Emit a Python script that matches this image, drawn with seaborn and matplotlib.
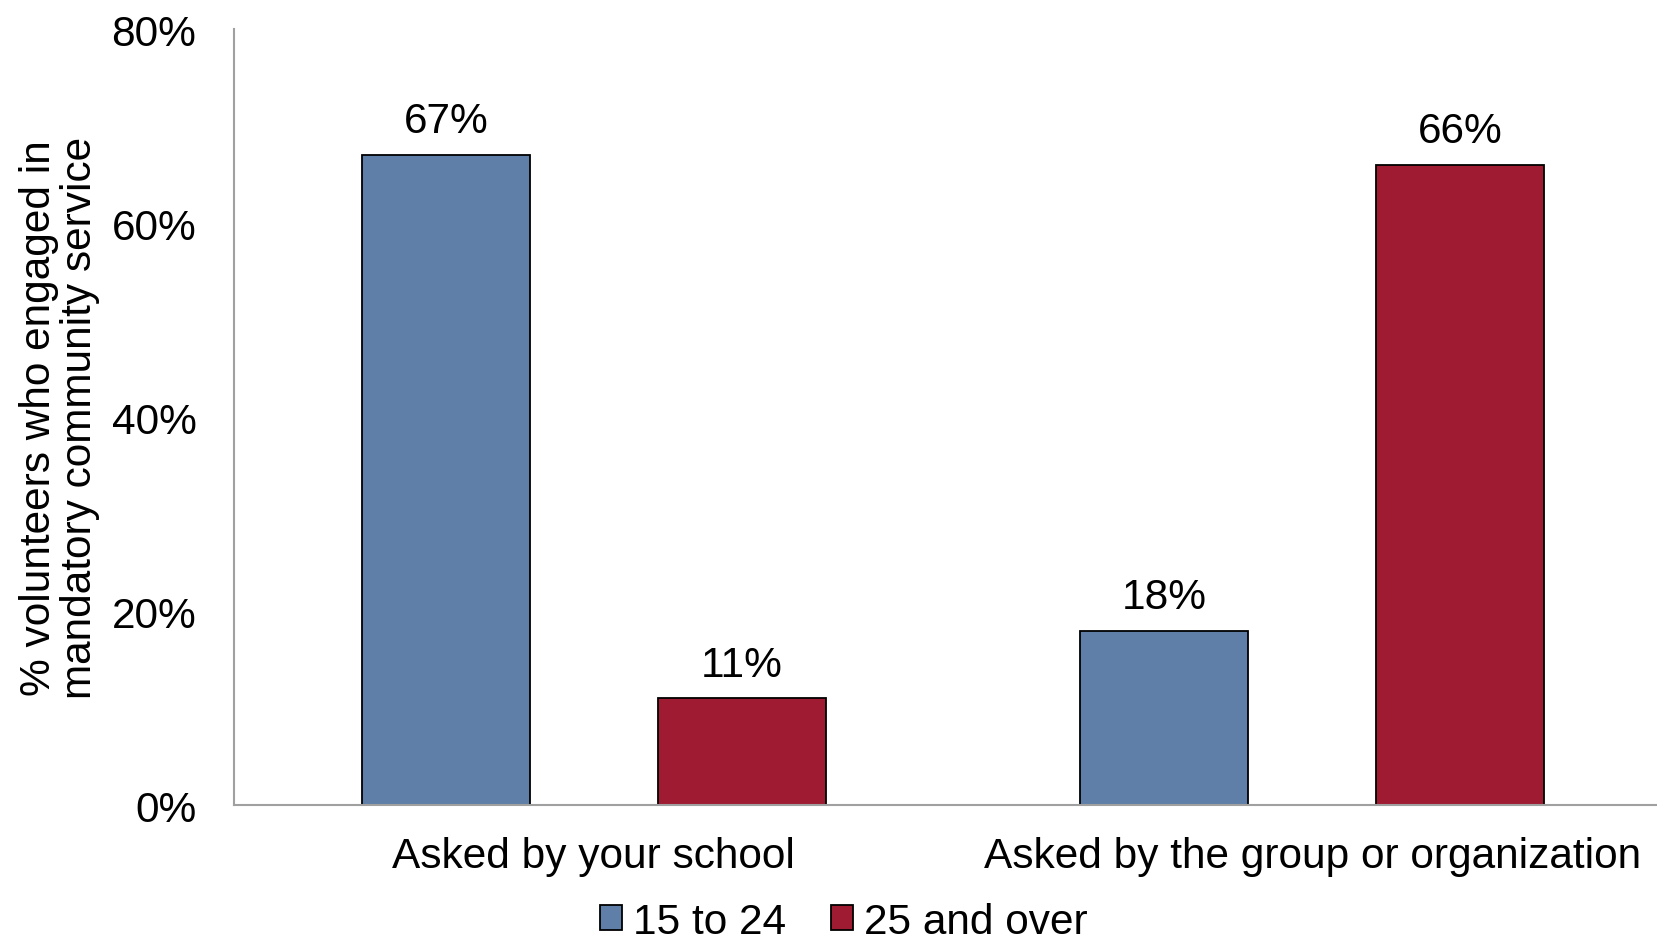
import pandas as pd
import matplotlib.pyplot as plt
import seaborn as sns
from matplotlib.ticker import PercentFormatter

categories = ["Asked by your school", "Asked by the group or organization"]
groups = ["15 to 24", "25 and over"]
young = [67, 18]
older = [11, 66]

data = pd.DataFrame({
    "category": categories * 2,
    "age": [groups[0]] * 2 + [groups[1]] * 2,
    "value": young + older,
})

sns.set_style("white")
plt.rcParams['font.family'] = ['Liberation Sans', 'DejaVu Sans']
plt.rcParams['text.color'] = 'black'
plt.rcParams['axes.labelcolor'] = 'black'
plt.rcParams['xtick.color'] = 'black'
plt.rcParams['ytick.color'] = 'black'

fig = plt.figure(figsize=(16.58, 9.45), dpi=100)
ax = fig.add_axes([0.1411, 0.147, 0.8589, 0.821])

sns.barplot(data=data, x="category", y="value", hue="age",
            palette=["#5F7FA8", "#9E1B32"], saturation=1,
            width=0.824, gap=0.432,
            edgecolor="black", linewidth=1.3, ax=ax)

fs = 30.5
for cont in ax.containers:
    ax.bar_label(cont, labels=[f"{v:.0f}%" for v in cont.datavalues],
                 padding=10, fontsize=fs)

ax.set_ylim(0, 80)
ax.set_xlim(-0.501, 1.481)
ax.set_yticks([0, 20, 40, 60, 80])
ax.yaxis.set_major_formatter(PercentFormatter(decimals=0))
ax.tick_params(axis="both", labelsize=fs, length=0)
ax.tick_params(axis="y", pad=27)
ax.tick_params(axis="x", pad=22)
ax.set_xlabel("")
ax.set_ylabel("% volunteers who engaged in\nmandatory community service",
              fontsize=fs, labelpad=8, linespacing=1.05)

for s in ["top", "right"]:
    ax.spines[s].set_visible(False)
for s in ["left", "bottom"]:
    ax.spines[s].set_color("#A0A0A0")
    ax.spines[s].set_linewidth(1.5)

ax.legend_.remove()
handles, labels = ax.get_legend_handles_labels()
fig.legend(handles, labels, loc="lower center", bbox_to_anchor=(0.509, -0.038),
           ncol=2, frameon=False, fontsize=fs, handlelength=0.52,
           handleheight=0.52, handletextpad=0.27, columnspacing=1.05)

fig.savefig("out.png", dpi=100)
